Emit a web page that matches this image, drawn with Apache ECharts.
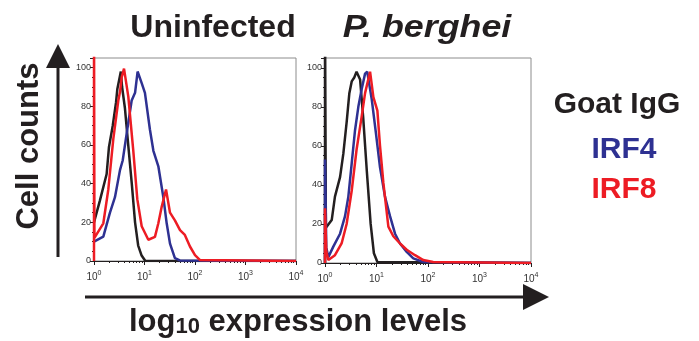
<!DOCTYPE html>
<html>
<head>
<meta charset="utf-8">
<script src="https://cdn.jsdelivr.net/npm/echarts@6/dist/echarts.min.js"></script>
<style>
  html, body { margin: 0; padding: 0; background: #fff; }
  #chart { width: 699px; height: 341px; }
</style>
</head>
<body>
<div id="chart"></div>
<script>
// histogram curves, x = fluorescence (log axis), y = % of max
// Uninfected
const uninfGoatX = [1, 1.3, 1.78, 1.98, 2.35, 2.73, 2.9, 3.4, 3.6, 4.1, 4.8, 5.6, 6.5, 7.5, 8.7, 10.4, 10000];
const uninfGoatY = [20, 31, 45, 59, 70, 82, 89, 98, 90, 79, 59, 40, 20, 8, 3, 0, 0];
const uninfIrf4X = [1, 1.53, 2.07, 2.6, 3.27, 3.7, 4.44, 5.57, 6.5, 7.3, 8.8, 10.2, 12.8, 15, 18.8, 23.6, 27.5, 32, 40, 50, 10000];
const uninfIrf4Y = [10, 12.6, 25, 33, 47, 52, 66, 83, 87, 98, 92, 87, 68, 57, 49, 33, 19.5, 9, 1.5, 0.3, 0];
const uninfIrf8X = [1, 1, 1.02, 1.53, 1.92, 2.41, 3.03, 3.3, 3.53, 3.93, 4.78, 6.0, 7.2, 8.8, 11.9, 16.1, 18.8, 21.9, 26.7, 32, 40, 50.5, 63, 79.5, 100, 126, 10000];
const uninfIrf8Y = [0, 130, 12, 19.5, 37, 63, 83, 88, 95, 99.5, 85, 57, 32, 18, 11, 12.5, 19.5, 28, 37, 25, 21, 16, 13.5, 7.5, 3, 0.5, 0];
// P. berghei
const pbGoatX = [1, 1, 1.04, 1.11, 1.35, 1.56, 1.96, 2.27, 2.63, 2.97, 3.3, 3.7, 4.1, 4.8, 5.5, 6.45, 7.7, 8.9, 10.4, 10000];
const pbGoatY = [0, 130, 18, 17, 22, 34, 44, 56, 72, 87, 93, 95, 98, 94, 75, 48, 20, 5, 0.5, 0];
const pbIrf4X = [1, 1, 1.06, 1.16, 1.45, 1.96, 2.45, 2.84, 3.3, 3.83, 4.44, 5.15, 6.0, 6.6, 8.07, 9.8, 11.7, 14.6, 18.3, 22.9, 28.6, 38.6, 51.8, 81, 10000];
const pbIrf4Y = [0, 53, 8, 3, 8.4, 15, 24, 34, 51, 68, 80, 89, 97, 98, 84, 66, 49, 34, 24, 15, 10, 5.7, 2.4, 0.5, 0];
const pbIrf8X = [1, 1, 1.06, 1.16, 1.56, 2.1, 2.63, 3.3, 4.1, 5.15, 6.0, 7.5, 8.7, 10.4, 11.7, 13.6, 17, 21.2, 28.6, 38.6, 56, 81, 126, 10000];
const pbIrf8Y = [0, 28, 6, 1.5, 4, 10, 20, 37, 58, 75, 87, 98, 85, 78, 60, 41, 18.6, 13.7, 10, 6.8, 4, 1.5, 0.5, 0];

const panelTitles = ['Uninfected', 'P. berghei'];
const legendNames = ['Goat IgG', 'IRF4', 'IRF8'];
const legendColors = ['#231f20', '#2e3192', '#ed1c24'];
const xMinorTicks = [2, 3, 4, 5, 6, 7, 8, 9, 20, 30, 40, 50, 60, 70, 80, 90,
  200, 300, 400, 500, 600, 700, 800, 900, 2000, 3000, 4000, 5000, 6000, 7000, 8000, 9000];

const FONT = 'Liberation Sans, Arial, sans-serif';
const INK = '#231f20';

function zip(xs, ys) {
  return xs.map((x, i) => [x, ys[i]]);
}

function logAxis(gridIndex) {
  return {
    type: 'log', logBase: 10, gridIndex: gridIndex, min: 1, max: 10000,
    axisLine: { show: true, lineStyle: { color: INK, width: 1 } },
    axisTick: { show: true, inside: false, length: 4, lineStyle: { color: INK } },
    minorTick: { show: false },
    splitLine: { show: false },
    axisLabel: {
      color: '#333', fontFamily: FONT, fontSize: 10, margin: 9,
      formatter: function (v) {
        return '10{s|' + Math.round(Math.log10(v)) + '}';
      },
      rich: { s: { fontSize: 7, fontFamily: FONT, color: '#333', verticalAlign: 'top', lineHeight: 14 } }
    }
  };
}

function minorAxis(gridIndex) {
  return {
    type: 'value', gridIndex: gridIndex, min: 0, max: 4, position: 'bottom',
    axisLine: { show: false },
    axisLabel: { show: false },
    splitLine: { show: false },
    axisTick: { show: true, length: 2, lineStyle: { color: INK },
      customValues: xMinorTicks.map(v => Math.log10(v)) }
  };
}

function yAxis(gridIndex) {
  return {
    type: 'value', gridIndex: gridIndex, min: 0, max: 105, interval: 20,
    axisLine: { show: true, lineStyle: { color: INK, width: 1 } },
    axisTick: { show: true, inside: false, length: 4, lineStyle: { color: INK } },
    minorTick: { show: true, splitNumber: 4, length: 2, lineStyle: { color: INK } },
    splitLine: { show: false },
    axisLabel: { color: '#333', fontFamily: FONT, fontSize: 9, margin: 3, showMaxLabel: false }
  };
}

function curve(name, xs, ys, color, idx) {
  return {
    name: name, type: 'line', xAxisIndex: idx, yAxisIndex: idx,
    data: zip(xs, ys), showSymbol: false, symbol: 'none', clip: true,
    lineStyle: { color: color, width: 2.5 }, itemStyle: { color: color }
  };
}

const chart = echarts.init(document.getElementById('chart'));
chart.setOption({
  animation: false,
  backgroundColor: '#fff',
  grid: [
    { left: 94, top: 58, width: 202, height: 203, show: true, borderColor: '#8c8c8c', borderWidth: 1 },
    { left: 325, top: 58, width: 206, height: 205, show: true, borderColor: '#8c8c8c', borderWidth: 1 }
  ],
  xAxis: [logAxis(0), logAxis(1), minorAxis(0), minorAxis(1)],
  yAxis: [yAxis(0), yAxis(1)],
  series: [
    curve(legendNames[0], uninfGoatX, uninfGoatY, legendColors[0], 0),
    curve(legendNames[1], uninfIrf4X, uninfIrf4Y, legendColors[1], 0),
    curve(legendNames[2], uninfIrf8X, uninfIrf8Y, legendColors[2], 0),
    curve(legendNames[0], pbGoatX, pbGoatY, legendColors[0], 1),
    curve(legendNames[1], pbIrf4X, pbIrf4Y, legendColors[1], 1),
    curve(legendNames[2], pbIrf8X, pbIrf8Y, legendColors[2], 1)
  ],
  graphic: [
    { type: 'text', x: 213, y: 28, style: { text: panelTitles[0], font: 'bold 32px ' + FONT, fill: INK, align: 'center', verticalAlign: 'middle' } },
    { type: 'text', x: 427, y: 28, scaleX: 1.12, style: { text: panelTitles[1], font: 'italic bold 32px ' + FONT, fill: INK, align: 'center', verticalAlign: 'middle' } },
    { type: 'text', x: 29, y: 146, rotation: Math.PI / 2,
      style: { text: 'Cell counts', font: 'bold 31px ' + FONT, fill: INK, align: 'center', verticalAlign: 'middle' } },
    { type: 'text', x: 298, y: 307,
      style: {
        text: '{a|log}{b|10}{a| expression levels}', fill: INK, align: 'center', verticalAlign: 'top',
        rich: {
          a: { font: 'bold 31px ' + FONT, fill: INK, lineHeight: 31, verticalAlign: 'top' },
          b: { font: 'bold 22px ' + FONT, fill: INK, lineHeight: 22, padding: [18, 0, 0, 0], verticalAlign: 'bottom' }
        }
      } },
    // axis arrows
    { type: 'line', shape: { x1: 58, y1: 257, x2: 58, y2: 64 }, style: { stroke: INK, lineWidth: 3 } },
    { type: 'polygon', shape: { points: [[58, 44], [46, 68], [70, 68]] }, style: { fill: INK } },
    { type: 'line', shape: { x1: 85, y1: 297, x2: 526, y2: 297 }, style: { stroke: INK, lineWidth: 3 } },
    { type: 'polygon', shape: { points: [[549, 297], [523, 284], [523, 310]] }, style: { fill: INK } },
    // legend
    { type: 'text', x: 617, y: 105, style: { text: legendNames[0], font: 'bold 30px ' + FONT, fill: legendColors[0], align: 'center', verticalAlign: 'middle' } },
    { type: 'text', x: 624, y: 150, style: { text: legendNames[1], font: 'bold 30px ' + FONT, fill: legendColors[1], align: 'center', verticalAlign: 'middle' } },
    { type: 'text', x: 624, y: 190, style: { text: legendNames[2], font: 'bold 30px ' + FONT, fill: legendColors[2], align: 'center', verticalAlign: 'middle' } }
  ]
});
</script>
</body>
</html>
